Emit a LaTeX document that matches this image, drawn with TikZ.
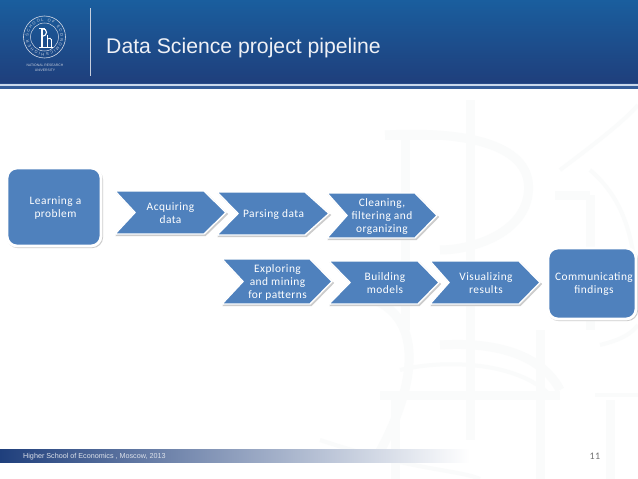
\documentclass[tikz,border=0pt]{standalone}
\usepackage{fontspec}
\setmainfont{Liberation Sans}
\newfontfamily\calfont[LetterSpace=4]{Carlito}
\usetikzlibrary{decorations.text}
\definecolor{boxblue}{HTML}{4F81BD}
\definecolor{hdtop}{HTML}{1A5E9E}
\definecolor{hdbot}{HTML}{1F3F7C}
\definecolor{wm}{HTML}{FAFBFB}
\tikzset{
  x=1pt,y=-1pt,
  chevshade/.style={fill=black!20,draw=black!20,line width=1pt},
  chevfill/.style={fill=boxblue,draw=white,line width=1.4pt,line join=miter},
  boxshade/.style={fill=black!20,draw=black!20,line width=1pt,rounded corners=10pt},
  boxfill/.style={fill=boxblue,draw=white,line width=2.8pt,rounded corners=10pt},
  lbl/.style={text=white,font=\calfont\fontsize{11.4}{13.2}\selectfont,align=center,inner sep=0pt},
  wmline/.style={draw=wm,line width=9pt,fill=none},
  wmthin/.style={draw=wm,line width=4pt,fill=none},
}
% #1 left, #2 notch, #3 top right, #4 tip, #5 top, #6 bottom, #7 name, #8 text x, #9 text
\newcommand{\chev}[9]{%
  \pgfmathsetmacro{\mymid}{(#5+#6)/2}
  \draw[chevshade] (#1+1.5,#5+1.5) -- (#3+1.5,#5+1.5) -- (#4+1.5,\mymid+1.5) -- (#3+1.5,#6+1.5) -- (#1+1.5,#6+1.5) -- (#2+1.5,\mymid+1.5) -- cycle;
  \draw[chevfill] (#1,#5) -- (#3,#5) -- (#4,\mymid) -- (#3,#6) -- (#1,#6) -- (#2,\mymid) -- cycle;
  \node[lbl] (#7) at (#8,\mymid+0.8) {#9};
}
\begin{document}
\begin{tikzpicture}
\useasboundingbox (0,0) rectangle (638,479);
\fill[white] (0,0) rectangle (638,479);
% watermark
\begin{scope}
\draw[wmline] (385,135) -- (445,135);
\draw[wmline] (385,135) .. controls (480,130) and (535,150) .. (528,195) .. controls (522,235) and (470,250) .. (440,250);
\draw[wmline] (405,140) -- (405,330);
\draw[wmline] (470,100) -- (470,440);
\draw[wmline] (540,330) -- (540,479);
\draw[wmline] (555,195) -- (590,195);
\draw[wmline] (590,195) -- (590,330);
\draw[wmthin] (560,170) .. controls (600,140) and (625,120) .. (638,105);
\draw[wmthin] (590,170) .. controls (625,200) and (635,240) .. (638,300);
\draw[wmline] (375,300) .. controls (430,325) and (410,400) .. (375,460);
\draw[wmline] (440,345) .. controls (520,340) and (550,370) .. (560,390);
\draw[wmline] (380,395) -- (560,395);
\draw[wmline] (395,395) -- (395,479);
\draw[wmthin] (400,370) .. controls (440,360) and (515,360) .. (550,395);
\draw[wmthin] (320,440) .. controls (410,470) and (460,470) .. (480,479);
\draw[wmthin] (600,345) .. controls (620,340) and (630,335) .. (638,325);
\draw[wmline] (610,400) -- (610,479);
\draw[wmthin] (595,395) -- (638,395);
\end{scope}
% header
\shade[top color=hdtop,bottom color=hdbot] (0,0) rectangle (638,83);
\fill[hdbot!80!boxblue] (0,83) rectangle (638,84.2);
\fill[white!70!boxblue] (0,84.2) rectangle (638,86.3);
\fill[hdbot!55!boxblue] (0,86.3) rectangle (638,89);
\fill[white!75!hdbot] (89.6,8) rectangle (91.2,76);
\node[text=white!93!hdbot,font=\fontsize{21.2}{25}\selectfont,anchor=base west,inner sep=0pt] (title) at (106,53) {Data Science project pipeline};
% logo
\coordinate (logoc) at (44.5,37);
\draw[white!80!hdbot,line width=.6pt] (logoc) circle[radius=21];
\draw[white!80!hdbot,line width=.5pt] (logoc) circle[radius=14];
\path[decorate,decoration={text along path,text align=fit to path,text={|\fontsize{4}{4}\selectfont\color{white!80!hdbot}|HIGHER SCHOOL OF ECONOMICS}}] (44.5,53) arc[start angle=90,end angle=445,radius=16];
\draw[white,line width=1.6pt] (42,28) -- (42,47);
\draw[white,line width=.7pt] (39,28) -- (45,28) (39,47.5) -- (53,47.5);
\draw[white,line width=1.1pt] (42,28.5) .. controls (48,28.5) and (48,36) .. (42,36.5);
\draw[white,line width=1.3pt] (47.5,35) -- (47.5,47) (51.5,39) -- (51.5,47);
\draw[white,line width=.8pt] (47.5,39) .. controls (49,37.5) and (51.5,38) .. (51.5,40);
\node[text=white!75!hdbot,font=\fontsize{3.4}{5.6}\selectfont,align=center,inner sep=0pt] (logotext) at (45,68) {NATIONAL RESEARCH\\UNIVERSITY};
% footer
\shade[left color=hdbot,right color=white] (0,449.5) rectangle (470,462);
\node[text=white!85!hdbot,font=\fontsize{7.2}{9}\selectfont,anchor=base west,inner sep=0pt] (foot) at (23,458.8) {Higher School of Economics , Moscow, 2013};
\node[text=black!55,font=\calfont\fontsize{10}{11}\selectfont,inner sep=0pt] (num) at (595,456.5) {11};
% boxes
\draw[boxshade] (7.5,169.5) rectangle (102.5,247.5);
\draw[boxfill] (7,168) rectangle (101,246);
\node[lbl] (learn) at (55.5,208) {Learning a\\problem};
\draw[boxshade] (548.5,249.5) rectangle (637.5,320.5);
\draw[boxfill] (548,248) rectangle (636,319);
\node[lbl] (comm) at (594,284) {Communicating\\findings};
% chevrons
\chev{115}{135}{204}{226}{191}{234}{acq}{170.5}{Acquiring\\data}
\chev{217}{238}{305}{329}{192}{235}{par}{273.5}{Parsing data}
\chev{327}{347}{415}{437}{193}{238}{cle}{382}{Cleaning,\\filtering and\\organizing}
\chev{222}{243}{310}{332}{259}{304}{exp}{277.5}{Exploring\\and mining\\for patterns}
\chev{329}{350}{418}{439}{261}{304}{bui}{385}{Building\\models}
\chev{430}{449}{519}{540}{261}{304}{vis}{486}{Visualizing\\results}
\end{tikzpicture}
\end{document}
